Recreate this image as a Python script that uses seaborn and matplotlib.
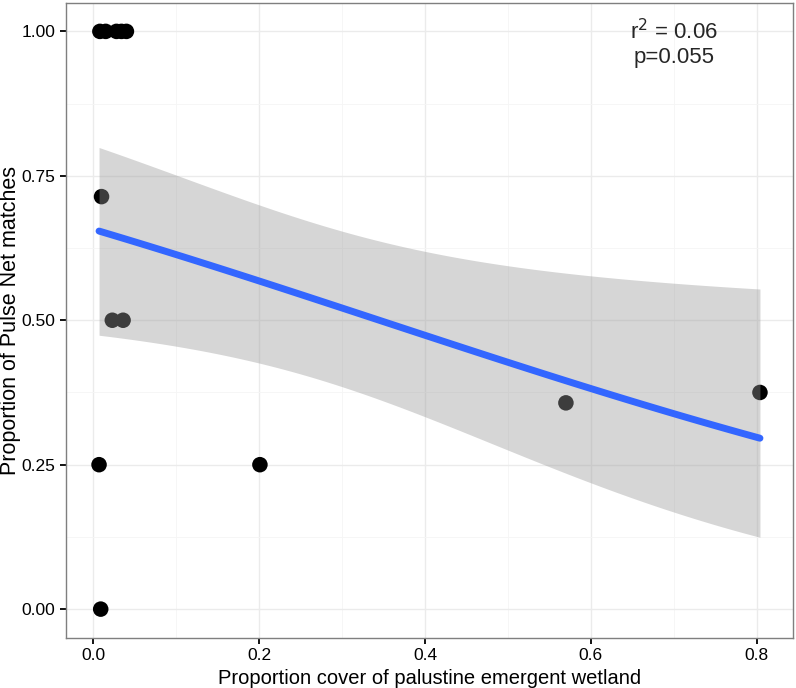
import numpy as np
import pandas as pd
import matplotlib
matplotlib.use("Agg")
import matplotlib.pyplot as plt
import seaborn as sns

# ---- data ----
cover = [0.008, 0.015, 0.028, 0.034, 0.040, 0.010, 0.023, 0.036, 0.007, 0.009, 0.201, 0.570, 0.804]
prop_match = [1.00, 1.00, 1.00, 1.00, 1.00, 0.714, 0.50, 0.50, 0.25, 0.00, 0.25, 0.357, 0.375]
n_isolates = [3, 2, 2, 2, 2, 7, 2, 4, 4, 1, 4, 14, 8]

x_ticks = [0.0, 0.2, 0.4, 0.6, 0.8]
y_ticks = [0.00, 0.25, 0.50, 0.75, 1.00]
annot_lines = ["r$^2$ = 0.06", "p=0.055"]
x_label = "Proportion cover of palustine emergent wetland"
y_label = "Proportion of Pulse Net matches"

df = pd.DataFrame({"cover": cover, "prop": prop_match, "n": n_isolates})

# ---- weighted binomial GLM (logit link) via IRLS ----
X = np.column_stack([np.ones(len(df)), df["cover"].values])
yv = df["prop"].values
wv = df["n"].values.astype(float)
beta = np.zeros(2)
for _ in range(100):
    eta = X @ beta
    mu = 1 / (1 + np.exp(-eta))
    W = wv * mu * (1 - mu)
    z = eta + (yv - mu) / (mu * (1 - mu))
    beta = np.linalg.solve(X.T @ (W[:, None] * X), X.T @ (W * z))
eta = X @ beta
mu = 1 / (1 + np.exp(-eta))
W = wv * mu * (1 - mu)
cov = np.linalg.inv(X.T @ (W[:, None] * X))

grid = np.linspace(df["cover"].min(), df["cover"].max(), 80)
Xg = np.column_stack([np.ones_like(grid), grid])
eg = Xg @ beta
se = np.sqrt(np.einsum("ij,jk,ik->i", Xg, cov, Xg))
inv = lambda e: 1 / (1 + np.exp(-e))
pred = pd.DataFrame({"cover": grid, "fit": inv(eg),
                     "lo": inv(eg - 1.96 * se), "hi": inv(eg + 1.96 * se)})

# ---- plot ----
sns.set_theme(style="white")
plt.rcParams["font.family"] = ["Liberation Sans", "DejaVu Sans"]

fig = plt.figure(figsize=(7.96, 6.88), dpi=100)
ax = fig.add_axes([66 / 796, 50 / 688, (793 - 66) / 796, (638 - 2.5) / 688])

sns.scatterplot(data=df, x="cover", y="prop", color="black", s=125,
                edgecolor="none", linewidth=0, ax=ax, zorder=3)
ax.fill_between(pred["cover"], pred["lo"], pred["hi"], color="#999999",
                alpha=0.4, linewidth=0, zorder=4)
sns.lineplot(data=pred, x="cover", y="fit", color="#3366FF", linewidth=5,
             ax=ax, zorder=5)

xr = df["cover"].max() - df["cover"].min()
ax.set_xlim(df["cover"].min() - 0.05 * xr, df["cover"].max() + 0.05 * xr)
ax.set_ylim(-0.05, 1.05)

ax.set_xticks(x_ticks)
ax.set_xticklabels([f"{t:.1f}" for t in x_ticks])
ax.set_yticks(y_ticks)
ax.set_yticklabels([f"{t:.2f}" for t in y_ticks])
ax.set_xticks([0.1, 0.3, 0.5, 0.7], minor=True)
ax.set_yticks([0.125, 0.375, 0.625, 0.875], minor=True)

ax.grid(True, which="major", color="#EBEBEB", linewidth=1.0, zorder=0)
ax.grid(True, which="minor", color="#F5F5F5", linewidth=0.6, zorder=0)
ax.set_axisbelow(True)

ax.tick_params(axis="both", which="major", direction="out", length=4.5, width=1.3,
               color="black", labelsize=12.5, labelcolor="black", pad=3,
               bottom=True, left=True)
ax.tick_params(axis="both", which="minor", length=0)
for sp in ax.spines.values():
    sp.set_color("#7F7F7F")
    sp.set_linewidth(1.0)

ax.set_xlabel(x_label, fontsize=14.5, color="black")
ax.set_ylabel(y_label, fontsize=15.5, color="black")
ax.xaxis.set_label_coords(0.5, (638 - 678) / 635.5)
ax.xaxis.label.set_va("center")
ax.yaxis.set_label_coords((11 - 66) / 727, 0.5)
ax.yaxis.label.set_va("center")

ax.text(0.70, 1.00, annot_lines[0], ha="center", va="center", fontsize=16, zorder=6)
ax.text(0.70, 0.955, annot_lines[1], ha="center", va="center", fontsize=16, zorder=6)

fig.savefig("out.png", dpi=100)
